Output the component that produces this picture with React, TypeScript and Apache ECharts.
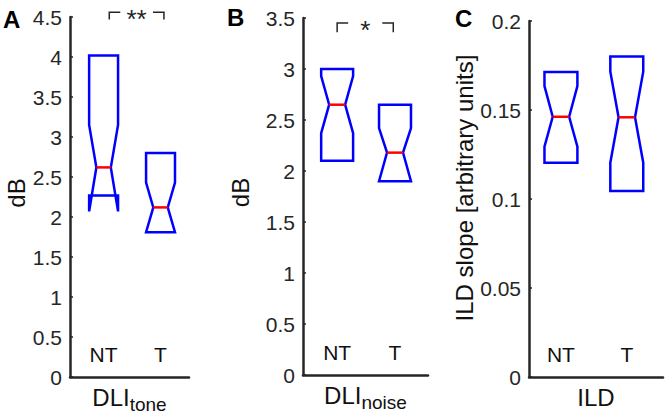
import React, { useEffect, useRef } from "react";
import * as echarts from "echarts";

// ---- data ----
const categories = ["NT", "T"];
// [x, q1, notchLow, median, notchHigh, q3]
const boxesA = [
  [1, 2.27, 2.07, 2.62, 3.15, 4.02],
  [2, 1.81, 1.81, 2.12, 2.43, 2.8],
];
const boxesB = [
  [1, 2.1, 2.37, 2.65, 2.93, 3.0],
  [2, 1.9, 1.9, 2.18, 2.42, 2.65],
];
const boxesC = [
  [1, 0.1204, 0.1294, 0.1462, 0.1635, 0.1713],
  [2, 0.1045, 0.1204, 0.1459, 0.1715, 0.18],
];
// significance brackets: [xStart, xEnd, yTop, yBottom]
const bracketA = [[1.1, 2.06, 4.56, 4.47]];
const bracketB = [[1.0, 1.97, 3.45, 3.36]];
const starsA = "**";
const starsB = "*";
const yRangeA = [0, 4.5, 0.5];
const yRangeB = [0, 3.5, 0.5];
const yRangeC = [0, 0.2, 0.05];
const panelLetters = ["A", "B", "C"];

const FONT = "'Liberation Sans', Arial, Helvetica, sans-serif";
const INK = "#262626";
const BLUE = "#0000ff";
const RED = "#ff0000";

function boxRender(halfW: number) {
  return (params: any, api: any) => {
    const x = api.value(0);
    const q1 = api.value(1);
    const nLo = api.value(2);
    const med = api.value(3);
    const nHi = api.value(4);
    const q3 = api.value(5);
    const w = halfW;
    const h = halfW / 2;
    const p = (dx: number, y: number) => api.coord([x + dx, y]);
    const points = [
      p(-w, q3), p(-w, nHi), p(-h, med), p(-w, nLo), p(-w, q1),
      p(w, q1), p(w, nLo), p(h, med), p(w, nHi), p(w, q3),
    ];
    const m1 = p(-h, med);
    const m2 = p(h, med);
    return {
      type: "group",
      children: [
        {
          type: "polygon",
          shape: { points },
          style: { fill: "none", stroke: BLUE, lineWidth: 2.5, lineJoin: "miter" },
        },
        {
          type: "line",
          shape: { x1: m1[0], y1: m1[1], x2: m2[0], y2: m2[1] },
          style: { stroke: RED, lineWidth: 2.5 },
        },
      ],
    };
  };
}

function bracketRender(label: string) {
  return (params: any, api: any) => {
    const x1 = api.value(0);
    const x2 = api.value(1);
    const yT = api.value(2);
    const yB = api.value(3);
    const a = api.coord([x1, yT]);
    const b = api.coord([x2, yT]);
    const ab = api.coord([x1, yB]);
    const arm = 11;
    return {
      type: "group",
      children: [
        {
          type: "polyline",
          shape: { points: [[a[0], ab[1]], [a[0], a[1]], [a[0] + arm, a[1]]] },
          style: { fill: "none", stroke: INK, lineWidth: 1.5 },
        },
        {
          type: "polyline",
          shape: { points: [[b[0] - arm, b[1]], [b[0], b[1]], [b[0], ab[1]]] },
          style: { fill: "none", stroke: INK, lineWidth: 1.5 },
        },
        {
          type: "text",
          style: {
            text: label,
            x: (a[0] + b[0]) / 2,
            y: a[1] + 7,
            align: "center",
            verticalAlign: "middle",
            fontSize: 26,
            fontFamily: FONT,
            fill: INK,
          },
        },
      ],
    };
  };
}

export default function App() {
  const ref = useRef<HTMLDivElement>(null);
  useEffect(() => {
    if (!ref.current) return;
    const chart = echarts.init(ref.current, undefined, { renderer: "svg" });

    const xRanges = [
      [0.41, 2.5],
      [0.41, 2.57],
      [0.515, 2.55],
    ];
    const xNames = ["{a|DLI}{b|tone}", "{a|DLI}{b|noise}", "{a|ILD}"];
    const yNames = ["dB", "dB", "ILD slope [arbitrary units]"];
    const yGaps = [40, 51, 50];
    const yPads = [[0, 0, 0, 8], [0, 0, 0, 8], [0, 0, 0, 22]];
    const yRanges = [yRangeA, yRangeB, yRangeC];

    const xAxis = xRanges.map((r, i) => ({
      type: "value",
      gridIndex: i,
      min: r[0],
      max: r[1],
      axisLine: { show: true, onZero: false, lineStyle: { color: INK, width: 2.5 } },
      axisTick: { show: false },
      splitLine: { show: false },
      axisLabel: {
        inside: true,
        customValues: [1, 2],
        formatter: (v: number) => categories[Math.round(v) - 1] ?? "",
        fontSize: 21,
        color: "#111",
        margin: 12,
        fontFamily: FONT,
      },
      name: xNames[i],
      nameLocation: "middle",
      nameGap: 8,
      nameTextStyle: {
        rich: {
          a: { fontSize: 24, color: "#111", fontFamily: FONT, verticalAlign: "bottom", padding: [0, 0, 5, 0] },
          b: { fontSize: 19, color: "#111", fontFamily: FONT, verticalAlign: "bottom" },
        },
      },
    }));

    const yAxis = yRanges.map((r, i) => ({
      type: "value",
      gridIndex: i,
      min: r[0],
      max: r[1],
      interval: r[2],
      axisLine: { show: true, onZero: false, lineStyle: { color: INK, width: 2.5 } },
      axisTick: { show: true, inside: true, length: 3, lineStyle: { color: INK, width: 1.5 } },
      splitLine: { show: false },
      axisLabel: { fontSize: 21, color: INK, margin: 8, fontFamily: FONT },
      name: yNames[i],
      nameLocation: "middle",
      nameRotate: 90,
      nameGap: yGaps[i],
      nameTextStyle: { fontSize: 24, color: "#111", fontFamily: FONT, padding: yPads[i] },
    }));

    const halfWidths = [0.254, 0.276, 0.25];
    const boxData = [boxesA, boxesB, boxesC];

    const series: any[] = boxData.map((d, i) => ({
      type: "custom",
      xAxisIndex: i,
      yAxisIndex: i,
      clip: false,
      encode: { x: 0, y: [1, 2, 3, 4, 5] },
      renderItem: boxRender(halfWidths[i]),
      data: d,
    }));
    series.push({
      type: "custom",
      xAxisIndex: 0,
      yAxisIndex: 0,
      clip: false,
      encode: { x: [0, 1], y: [2, 3] },
      renderItem: bracketRender(starsA),
      data: bracketA,
    });
    series.push({
      type: "custom",
      xAxisIndex: 1,
      yAxisIndex: 1,
      clip: false,
      encode: { x: [0, 1], y: [2, 3] },
      renderItem: bracketRender(starsB),
      data: bracketB,
    });

    const letterPos = [
      [3, 19],
      [227, 17],
      [455, 18.5],
    ];

    chart.setOption({
      animation: false,
      textStyle: { fontFamily: FONT },
      grid: [
        { left: 70, top: 17, width: 119, height: 360 },
        { left: 303, top: 18, width: 125, height: 357 },
        { left: 529, top: 21, width: 134, height: 356 },
      ],
      xAxis,
      yAxis,
      series,
      graphic: panelLetters.map((t, i) => ({
        type: "text",
        x: letterPos[i][0],
        y: letterPos[i][1],
        style: {
          text: t,
          fontSize: 24,
          fontWeight: "bold",
          fontFamily: FONT,
          fill: "#000",
          verticalAlign: "middle",
          align: "left",
        },
      })),
    });
    return () => chart.dispose();
  }, []);
  return (
    <div
      ref={ref}
      style={{ position: "fixed", left: 0, top: 0, width: 665, height: 419, background: "#fff" }}
    />
  );
}
